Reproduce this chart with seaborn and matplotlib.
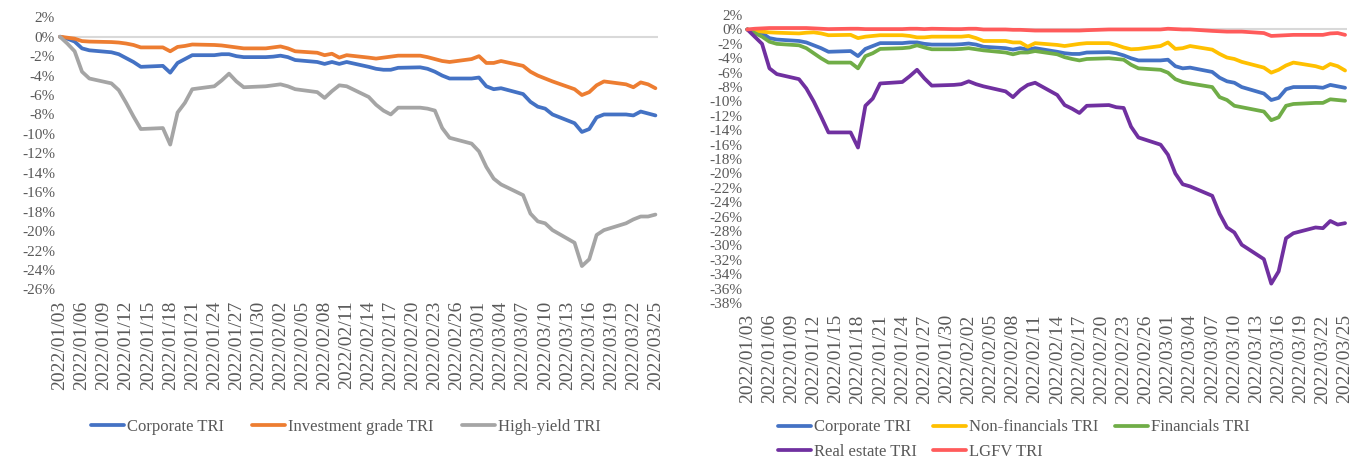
import pandas as pd
import seaborn as sns
import matplotlib.pyplot as plt

# trading days shown in both panels (Mon-Fri, 2022/01/03 - 2022/03/25)
dates = pd.bdate_range('2022-01-03', '2022-03-25')

# cumulative total return, %
corporate = [0, -0.2, -0.5, -1.2, -1.4,
             -1.6, -1.8, -2.2, -2.6, -3.1,
             -3.0, -3.7, -2.7, -2.3, -1.9,
             -1.9, -1.8, -1.8, -2.0, -2.1,
             -2.1, -2.05, -1.95, -2.1, -2.4,
             -2.6, -2.8, -2.6, -2.8, -2.6,
             -3.1, -3.3, -3.4, -3.4, -3.2,
             -3.15, -3.3, -3.6, -4.0, -4.3,
             -4.3, -4.2, -5.1, -5.4, -5.3,
             -5.9, -6.7, -7.2, -7.4, -8.0,
             -8.9, -9.8, -9.5, -8.3, -8.0,
             -8.0, -8.1, -7.7, -7.9, -8.1]
inv_grade = [0, -0.1, -0.2, -0.45, -0.5,
             -0.55, -0.6, -0.7, -0.85, -1.1,
             -1.1, -1.5, -1.05, -0.95, -0.8,
             -0.85, -0.9, -1.0, -1.1, -1.2,
             -1.2, -1.1, -1.0, -1.2, -1.5,
             -1.65, -1.9, -1.75, -2.15, -1.9,
             -2.15, -2.25, -2.15, -2.05, -1.95,
             -1.95, -2.1, -2.3, -2.5, -2.6,
             -2.3, -2.0, -2.7, -2.7, -2.5,
             -3.0, -3.6, -4.0, -4.3, -4.6,
             -5.4, -6.0, -5.7, -5.0, -4.6,
             -4.9, -5.2, -4.7, -4.9, -5.3]
high_yield = [0, -0.7, -1.5, -3.6, -4.3,
              -4.8, -5.5, -6.8, -8.2, -9.5,
              -9.4, -11.1, -7.8, -6.8, -5.4,
              -5.1, -4.5, -3.8, -4.6, -5.2,
              -5.1, -5.0, -4.9, -5.1, -5.4,
              -5.7, -6.3, -5.6, -5.0, -5.1,
              -6.2, -7.0, -7.6, -8.0, -7.3,
              -7.3, -7.4, -7.6, -9.4, -10.4,
              -11.0, -11.8, -13.4, -14.6, -15.2,
              -16.3, -18.2, -19.0, -19.2, -19.9,
              -21.2, -23.6, -22.9, -20.4, -19.9,
              -19.2, -18.8, -18.5, -18.5, -18.3]
non_fin = [0, -0.2, -0.3, -0.4, -0.45,
           -0.55, -0.45, -0.4, -0.55, -0.8,
           -0.75, -1.2, -1.0, -0.9, -0.8,
           -0.8, -0.9, -1.1, -1.1, -1.0,
           -1.0, -1.0, -0.9, -1.2, -1.6,
           -1.6, -1.8, -1.8, -2.4, -1.9,
           -2.15, -2.3, -2.15, -2.0, -1.9,
           -1.9, -2.15, -2.5, -2.75, -2.7,
           -2.3, -1.8, -2.7, -2.6, -2.3,
           -2.8, -3.4, -3.9, -4.1, -4.5,
           -5.3, -6.0, -5.6, -5.0, -4.6,
           -5.1, -5.4, -4.8, -5.1, -5.7]
financials = [0, -0.5, -1.0, -1.7, -2.0,
              -2.2, -2.6, -3.3, -4.0, -4.6,
              -4.6, -5.4, -3.7, -3.3, -2.7,
              -2.6, -2.5, -2.2, -2.5, -2.75,
              -2.75, -2.7, -2.6, -2.75, -2.9,
              -3.2, -3.45, -3.2, -3.2, -3.0,
              -3.45, -3.85, -4.1, -4.3, -4.1,
              -4.0, -4.1, -4.2, -4.9, -5.4,
              -5.6, -6.0, -6.9, -7.3, -7.5,
              -8.0, -9.4, -9.8, -10.6, -10.8,
              -11.4, -12.6, -12.2, -10.6, -10.35,
              -10.2, -10.2, -9.7, -9.8, -9.9]
real_estate = [0, -1.0, -2.0, -5.4, -6.2,
               -6.9, -8.2, -10.0, -12.1, -14.3,
               -14.3, -16.4, -10.6, -9.6, -7.5,
               -7.3, -6.5, -5.6, -6.8, -7.8,
               -7.7, -7.6, -7.2, -7.6, -7.9,
               -8.6, -9.4, -8.4, -7.7, -7.4,
               -9.1, -10.5, -11.0, -11.6, -10.6,
               -10.5, -10.8, -10.9, -13.5, -15.0,
               -16.0, -17.4, -20.0, -21.5, -21.8,
               -23.1, -25.6, -27.5, -28.2, -29.9,
               -31.9, -35.3, -33.6, -29.0, -28.3,
               -27.5, -27.6, -26.6, -27.1, -26.9]
lgfv = [0, 0.1, 0.15, 0.2, 0.2,
        0.2, 0.2, 0.15, 0.1, 0.05,
        0.1, 0.1, 0.05, 0.05, 0.05,
        0.05, 0.1, 0.1, 0.05, 0.1,
        0.05, 0.05, 0.1, 0.1, 0.0,
        0.0, -0.05, -0.05, -0.1, -0.15,
        -0.15, -0.15, -0.15, -0.15, -0.1,
        0.0, 0.0, 0.0, 0.0, 0.0,
        0.0, 0.1, 0.05, 0.0, 0.0,
        -0.2, -0.25, -0.3, -0.3, -0.3,
        -0.5, -0.9, -0.85, -0.8, -0.75,
        -0.75, -0.75, -0.55, -0.5, -0.75]

tick_dates = pd.date_range('2022-01-03', '2022-03-25', freq='3D')

sns.set_theme(style='white')
plt.rcParams['font.family'] = ['Liberation Serif', 'DejaVu Serif']
text_color = '#595959'

left = pd.DataFrame({'Date': dates, 'Corporate TRI': corporate,
                     'Investment grade TRI': inv_grade, 'High-yield TRI': high_yield})
left = left.melt(id_vars='Date', var_name='Index', value_name='Return')
right = pd.DataFrame({'Date': dates, 'Corporate TRI': corporate, 'Non-financials TRI': non_fin,
                      'Financials TRI': financials, 'Real estate TRI': real_estate, 'LGFV TRI': lgfv})
right = right.melt(id_vars='Date', var_name='Index', value_name='Return')

fig = plt.figure(figsize=(13.6, 4.62), dpi=100)
ax1 = fig.add_axes([0.0425, 0.3736, 0.441, 0.589])
ax2 = fig.add_axes([0.5479, 0.344, 0.4427, 0.6234])

sns.lineplot(data=left, x='Date', y='Return', hue='Index', ax=ax1, linewidth=2.7,
             palette=['#4472C4', '#ED7D31', '#A5A5A5'])
sns.lineplot(data=right, x='Date', y='Return', hue='Index', ax=ax2, linewidth=2.7,
             palette=['#4472C4', '#FFC000', '#70AD47', '#7030A0', '#FF5B5B'])

pad = pd.Timedelta(hours=7)
for ax, ylo in [(ax1, -26), (ax2, -38)]:
    ax.axhline(0, color='#D9D9D9', linewidth=1.5, zorder=0)
    ax.set_xlim(dates[0] - pad, dates[-1] + pad)
    ax.set_ylim(ylo, 2)
    yt = list(range(ylo, 3, 2))
    ax.set_yticks(yt)
    ax.set_yticklabels([f'{v}%' for v in yt], fontsize=11, color=text_color)
    ax.set_xticks(tick_dates)
    ax.set_xticklabels([d.strftime('%Y/%m/%d') for d in tick_dates], rotation=90,
                       fontsize=14, color=text_color)
    ax.tick_params(axis='both', length=0, pad=2)
    ax.tick_params(axis='x', pad=8)
    ax.set_xlabel('')
    ax.set_ylabel('')
    sns.despine(ax=ax, left=True, bottom=True)

h, l = ax1.get_legend_handles_labels()
ax1.legend(h, l, loc='center', bbox_to_anchor=(0.48, -0.506), ncol=3, frameon=False,
           fontsize=12, labelcolor=text_color, handlelength=2.0, handletextpad=0.15,
           columnspacing=1.7)

# excel fills the legend row by row, matplotlib column by column
h, l = ax2.get_legend_handles_labels()
order = [0, 3, 1, 4, 2]
ax2.legend([h[i] for i in order], [l[i] for i in order], loc='center',
           bbox_to_anchor=(0.446, -0.474), ncol=3, frameon=False, fontsize=12,
           labelcolor=text_color, handlelength=2.0, handletextpad=0.15,
           columnspacing=1.0, labelspacing=0.5)

fig.savefig('out.png', dpi=100)
